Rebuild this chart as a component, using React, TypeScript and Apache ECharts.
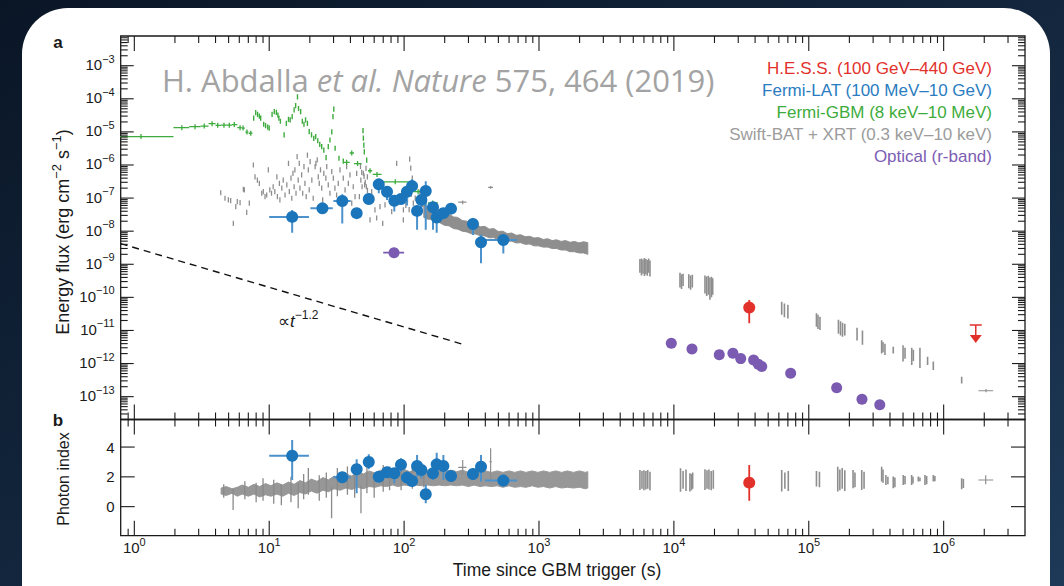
import React, { useEffect, useRef } from 'react';
import * as echarts from 'echarts';

// ---------------- axes ----------------
const X_MIN = 0.7925;
const X_MAX = 4.009e6;
const YA_MIN = 2.04e-14;
const YA_MAX = 7.9e-3;
const YB_MIN = -1.95;
const YB_MAX = 5.85;
const X_LABEL_EXPONENTS = [0, 1, 2, 3, 4, 5, 6];
const YA_LABEL_EXPONENTS = [-3, -4, -5, -6, -7, -8, -9, -10, -11, -12, -13];
const YB_TICKS = [0, 2, 4];

// ---------------- legend ----------------
const legendLabels = [
  'H.E.S.S. (100 GeV–440 GeV)',
  'Fermi-LAT (100 MeV–10 GeV)',
  'Fermi-GBM (8 keV–10 MeV)',
  'Swift-BAT + XRT (0.3 keV–10 keV)',
  'Optical (r-band)',
];
const C_HESS = '#e2312b';
const C_LAT = '#1b75bb';
const C_LAT_ERR = '#4b91cb';
const C_GBM = '#3dab3d';
const C_SWIFT = '#8e8e8e';
const C_SWIFT_B = '#979797';
const C_OPT = '#7b5bb1';
const legendColors = [C_HESS, '#2b7cbf', '#3eac3c', '#9c9c9c', '#7d5db3'];

// ---------------- H.E.S.S. ----------------
const hessT = [36200];
const hessF = [4.9e-11];
const hessFLo = [1.66e-11];
const hessFHi = [8.3e-11];
const hessIdx = [1.61];
const hessIdxLo = [0.4];
const hessIdxHi = [2.8];
const hessUpperLimit = [[1.73e6, 1.47e-11]];

// ---------------- Fermi-LAT ----------------
const latT = [14.8, 24.8, 34.8, 44.5, 54.7, 64.9, 74.7, 84.6, 94.8, 105, 114.6, 124.8, 134.3, 144.7, 163.8, 174.4, 195.5, 222.7, 324, 371.7, 544];
const latTLo = [10.0, 20.2, 29.9, 40.8, 51, 61, 71, 81, 91, 101, 111, 121, 131, 141, 156, 170, 185, 210, 300, 371.7, 398];
const latTHi = [19.7, 29.6, 40.2, 48.5, 58, 69, 78, 88, 99, 109, 119, 129, 138, 149, 171, 180, 205, 236, 348, 371.7, 687];
const latF = [2.7e-8, 4.9e-8, 8.2e-8, 3.5e-8, 9.4e-8, 2.6e-7, 1.56e-7, 8.3e-8, 9.4e-8, 1.56e-7, 2.3e-7, 4.1e-8, 8.8e-8, 1.64e-7, 5.3e-8, 2.6e-8, 3.5e-8, 4.8e-8, 1.65e-8, 4.6e-9, 5.4e-9];
const latFLo = [9e-9, 3.6e-8, 1.7e-8, 2.6e-8, 6.6e-8, 1.4e-7, 8.7e-8, 3.9e-8, 6.6e-8, 6e-8, 1.6e-7, 1.1e-8, 4.2e-8, 1.1e-8, 1.1e-8, 8.9e-9, 2.5e-8, 3.5e-8, 7.6e-9, 1.07e-9, 2.1e-9];
const latFHi = [4.4e-8, 6.6e-8, 1.3e-7, 4.6e-8, 1.4e-7, 3.5e-7, 2.1e-7, 1.24e-7, 1.15e-7, 2.3e-7, 3.7e-7, 6.2e-8, 1.2e-7, 3.2e-7, 7.5e-8, 3.5e-8, 4.5e-8, 6e-8, 2.5e-8, 8e-9, 7.6e-9];
const latIdx = [3.42, null, 1.97, 2.51, 3.0, 2.01, 2.31, 2.24, 2.82, 1.95, 1.72, 2.73, 2.46, 0.83, 2.24, 2.84, 2.73, 2.06, 2.19, 2.68, 1.75];
const latIdxLo = [1.79, null, 1.57, 0.9, 2.51, 1.68, 1.9, 1.57, 2.35, 1.57, 1.46, 2.01, 1.9, 0.23, 1.79, 2.01, 1.79, 1.79, 1.79, 1.68, 1.35];
const latIdxHi = [4.47, null, 2.28, 3.18, 3.52, 2.35, 2.68, 2.57, 3.25, 2.35, 2.01, 3.47, 2.91, 1.46, 2.68, 3.62, 3.47, 2.35, 2.57, 3.47, 1.9];

// ---------------- Fermi-GBM ----------------
// binned points [t, F, tLo, tHi]
const gbmBins = [
  [1.12, 7.2e-6, 0.5, 1.95], [2.25, 1.34e-5, 1.95, 2.55], [2.82, 1.44e-5, 2.55, 3.1], [3.3, 1.5e-5, 3.1, 3.55],
  [3.77, 1.77e-5, 3.55, 4.0], [4.15, 1.58e-5, 4.0, 4.4], [4.62, 1.6e-5, 4.4, 4.85], [5.06, 1.6e-5, 4.85, 5.3],
  [5.51, 1.66e-5, 5.3, 5.8], [6.08, 1.34e-5, 5.8, 6.25], [6.4, 1.3e-5, 6.25, 6.6], [6.84, 9.9e-6, 6.65, 7.0],
  [7.3, 9.1e-6, 7.05, 7.5], [37.5, 1.2e-6, 35.5, 39.5], [40.9, 2.3e-6, 39.5, 42.5], [45.2, 1.1e-6, 42.5, 48.5],
  [55.9, 6.7e-7, 54, 58], [63, 5.2e-7, 58.5, 68], [86, 3.1e-7, 68, 110], [127, 1.56e-7, 116, 138], [163, 7.1e-8, 150, 178],
];
// fine time-resolved points [t, F]
const gbmFine = [
  [7.67, 2.6e-5], [7.94, 3.8e-5], [8.2, 3.4e-5], [8.45, 3.0e-5], [8.65, 2.6e-5], [9.1, 1.7e-5], [9.4, 1.55e-5],
  [9.75, 1.4e-5], [10.0, 1.3e-5], [10.5, 3.4e-5], [10.9, 4.1e-5], [11.3, 3.9e-5], [11.6, 3.2e-5], [11.8, 2.6e-5],
  [12.1, 2.1e-5], [12.9, 8.1e-6], [13.4, 1.8e-5], [13.9, 2.4e-5], [14.3, 2.3e-5], [14.8, 2.9e-5], [15.3, 4.6e-5],
  [15.7, 6.2e-5], [16.2, 1.15e-4], [16.5, 5.1e-5], [17.1, 4.1e-5], [17.6, 2.1e-5], [18.1, 1.7e-5], [18.6, 2.3e-5],
  [19.2, 1.8e-5], [19.8, 1.02e-5], [20.6, 8.1e-6], [21.4, 6.4e-6], [22.1, 7.2e-6], [22.9, 5.4e-6], [23.7, 4.2e-6],
  [24.5, 3.6e-6], [25.4, 2.8e-6], [26.4, 1.66e-6], [27.4, 3.6e-6], [28.2, 5.7e-6], [29.1, 1.0e-5], [29.7, 2.9e-5],
  [30.1, 4.9e-5], [30.8, 3.2e-6], [32.9, 1.6e-6], [35.4, 1.3e-6], [49.6, 1.1e-5], [49.9, 6.5e-6], [50.3, 4e-6],
  [50.7, 2.5e-6], [52.8, 1.4e-6],
];

// ---------------- Swift-BAT + XRT ----------------
const swiftEarly = [
  [4.37, 1.45e-7], [4.70, 9.9e-8], [4.98, 8.8e-8], [5.18, 8.4e-8], [5.42, 1.73e-8], [5.65, 5.5e-8], [5.80, 7.8e-8],
  [6.08, 7.3e-8], [6.43, 1.85e-7], [6.54, 1.76e-7], [6.81, 3.7e-8], [7.12, 7.0e-8], [7.63, 1.0e-6], [7.85, 4.4e-7],
  [8.17, 3.5e-7], [8.45, 2.8e-7], [8.80, 1.4e-7], [9.04, 1.56e-7], [9.31, 1.1e-7], [9.58, 1.24e-7], [9.85, 7.1e-7],
  [10.1, 1.76e-7], [10.4, 1.4e-7], [10.7, 2.2e-7], [11.0, 1.56e-7], [11.4, 4.4e-7], [11.5, 1.1e-7], [11.9, 2.8e-7],
  [12.0, 8.8e-8], [12.4, 2.0e-7], [12.7, 3.5e-7], [13.1, 1.24e-7], [13.5, 2.5e-7], [13.9, 1.12e-6], [14.1, 1.56e-7],
  [14.5, 4.0e-7], [14.7, 9.9e-8], [15.0, 5.6e-7], [15.3, 2.2e-7], [15.5, 7.1e-7], [15.8, 1.4e-7], [16.1, 1.79e-6],
  [16.4, 3.5e-7], [16.7, 1.12e-6], [16.9, 2.0e-7], [17.4, 5.0e-7], [17.7, 1.4e-7], [18.1, 8.9e-7], [18.4, 2.8e-7],
  [18.8, 1.1e-7], [19.2, 2.0e-6], [19.5, 7.1e-7], [19.8, 1.76e-7], [20.1, 1.26e-6], [20.7, 3.5e-7], [21.2, 9.9e-8],
  [21.9, 8.9e-7], [22.2, 1.12e-6], [22.7, 1.42e-6], [23.1, 4.4e-7], [23.5, 2.8e-7], [24.0, 7.1e-7], [24.5, 2.0e-7],
  [24.9, 8.8e-8], [25.4, 5.6e-7], [26.3, 4.0e-7], [26.7, 8.9e-7], [27.4, 2.5e-7], [28.2, 1.4e-7], [29.1, 6.3e-7],
  [29.9, 4.0e-7], [30.7, 2.0e-7], [31.6, 1.24e-7], [32.5, 2.8e-7], [33.5, 7.1e-7], [34.4, 8.8e-8], [35.4, 4.0e-7],
  [36.5, 1.76e-7], [37.5, 8.9e-7], [38.6, 2.8e-7], [39.7, 5.0e-7], [40.9, 7.0e-8], [42.0, 2.2e-7], [43.3, 1.1e-7],
  [44.5, 5.6e-7], [45.8, 3.5e-8], [46.6, 1.1e-7], [47.5, 9e-7], [47.8, 3.5e-7], [48.5, 6e-7], [48.8, 2.2e-7],
  [49.9, 5.6e-7], [50.5, 4.5e-7], [51.0, 2.5e-7], [51.5, 3e-7], [52.2, 7.9e-7], [52.5, 2.2e-7], [53.4, 4.4e-7],
  [53.5, 1.7e-7], [55.9, 2.2e-8], [57.5, 1.56e-7], [59.1, 8.8e-8], [60.8, 4.4e-8], [62.6, 2.5e-8], [66.3, 5.5e-8],
  [69.4, 1.73e-8], [72.2, 6.2e-8], [76.2, 1.24e-7], [80.9, 3.9e-8], [88.1, 1.12e-6], [93.3, 9.9e-8], [98.8, 4.4e-8],
  [88.0, 8.8e-8], [98.7, 2.2e-8], [110, 1.5e-6], [112, 8e-7], [115, 4e-7], [118, 2.5e-7],
  [100, 1.1e-7], [103, 6e-8], [106, 9e-8], [109, 4.5e-8], [113, 1.3e-7], [117, 7e-8], [120, 3.5e-8], [121, 1.0e-7],
  [125, 5e-8], [129, 8.5e-8], [131, 1.5e-7], [133, 3.8e-8], [137, 6.5e-8], [141, 1.1e-7],
];
// dense XRT band (panel a): time, upper edge, lower edge
const bandAT = [140, 150, 160, 172, 184, 199, 215, 232, 250, 270, 292, 315, 340, 367, 396, 428, 462, 499, 539, 582, 628, 678, 732, 790, 853, 921, 994, 1073, 1159, 1251, 1350, 1458, 1574, 1700, 1835, 1981, 2139, 2300];
const bandAHi = [6.5e-8, 5.5e-8, 5.8e-8, 4.6e-8, 4.4e-8, 3.4e-8, 3.3e-8, 2.7e-8, 2.6e-8, 2.1e-8, 2.0e-8, 1.6e-8, 1.65e-8, 1.35e-8, 1.4e-8, 1.15e-8, 1.2e-8, 9.8e-9, 1.0e-8, 8.4e-9, 8.8e-9, 7.5e-9, 7.8e-9, 6.8e-9, 7.0e-9, 6.2e-9, 6.4e-9, 5.6e-9, 5.9e-9, 5.2e-9, 5.5e-9, 4.9e-9, 5.2e-9, 4.6e-9, 4.9e-9, 4.4e-9, 4.8e-9, 4.5e-9];
const bandALo = [2.6e-8, 2.3e-8, 2.3e-8, 1.9e-8, 1.8e-8, 1.5e-8, 1.45e-8, 1.2e-8, 1.15e-8, 1.0e-8, 9.5e-9, 8.4e-9, 8.2e-9, 7.3e-9, 7.2e-9, 6.3e-9, 6.4e-9, 5.5e-9, 5.5e-9, 5.0e-9, 5.0e-9, 4.4e-9, 4.5e-9, 4.0e-9, 4.1e-9, 3.6e-9, 3.6e-9, 3.3e-9, 3.3e-9, 3.0e-9, 3.0e-9, 2.7e-9, 2.7e-9, 2.4e-9, 2.4e-9, 2.2e-9, 2.2e-9, 2.0e-9];
// late XRT observations (panel a): [t, low, high]
const swiftLateA = [
  [5600, 5.5e-10, 1.45e-9], [5750, 4.6e-10, 1.5e-9], [5900, 5.2e-10, 1.4e-9], [6050, 4.4e-10, 1.55e-9], [6200, 5.0e-10, 1.45e-9], [6350, 4.5e-10, 1.35e-9], [6500, 5.5e-10, 1.5e-9], [6650, 4.3e-10, 1.3e-9],
  [11100, 2.0e-10, 5.5e-10], [11400, 1.8e-10, 5.0e-10], [11700, 2.2e-10, 5.2e-10],
  [12900, 1.9e-10, 5.0e-10], [13300, 1.7e-10, 4.6e-10], [13700, 2.0e-10, 4.8e-10],
  [17000, 1.3e-10, 4.6e-10], [17500, 1.1e-10, 4.3e-10], [18000, 1.2e-10, 4.5e-10], [18500, 8.5e-11, 4.0e-10], [19000, 1.0e-10, 4.2e-10], [19400, 1.2e-10, 3.8e-10],
  [63000, 3.0e-11, 7.4e-11], [66000, 2.5e-11, 6.5e-11], [70000, 2.3e-11, 6.0e-11],
  [114000, 1.3e-11, 3.3e-11], [117000, 1.1e-11, 3.0e-11], [121000, 1.03e-11, 2.6e-11],
  [166000, 8e-12, 2.1e-11], [172000, 7e-12, 1.9e-11], [178000, 6.5e-12, 1.7e-11], [185000, 7e-12, 1.6e-11],
  [228000, 5e-12, 1.2e-11], [250000, 3.7e-12, 1.0e-11],
  [347000, 2e-12, 5.1e-12], [355000, 2.2e-12, 4.5e-12], [367000, 1.8e-12, 4.0e-12],
  [423000, 2.0e-12, 3.2e-12],
  [500000, 1.15e-12, 3.6e-12], [517000, 1.4e-12, 3.0e-12],
  [580000, 9.1e-13, 3.0e-12], [596000, 1.2e-12, 2.6e-12],
  [667000, 7.4e-13, 3.0e-12],
  [760000, 9.1e-13, 1.6e-12],
  [838000, 6.4e-13, 1.15e-12],
  [1.36e6, 2.5e-13, 4.0e-13],
];
// BAT/XRT points with both error bars: [t, F, tLo, tHi, FLo, FHi]
const swiftCrossA = [
  [272, 7.5e-8, 252, 290, 6.5e-8, 8.5e-8],
  [438, 2.1e-7, 420, 456, 1.9e-7, 2.3e-7],
  [2.06e6, 1.51e-13, 1.81e6, 2.33e6, 1.35e-13, 1.7e-13],
];

// Swift photon index (panel b)
const bandBT = [4.4, 4.8, 5.3, 5.8, 6.3, 7.0, 7.7, 8.5, 9.4, 10.3, 11.4, 12.6, 13.9, 15.3, 16.9, 18.6, 20.5, 22.6, 25, 27.5, 30.3, 33.5, 37, 41, 45, 50, 55, 61, 67, 74, 82, 90, 100, 110, 122, 135, 150, 165, 182, 200, 222, 245, 270, 300, 330, 365, 400, 445, 490, 540, 600, 660, 730, 800, 890, 980, 1080, 1200, 1330, 1470, 1620, 1800, 2000, 2200, 2300];
const bandBHi = [1.25, 1.35, 1.2, 1.3, 1.45, 1.3, 1.5, 1.35, 1.55, 1.4, 1.6, 1.45, 1.65, 1.5, 1.75, 1.6, 1.85, 1.7, 1.95, 1.8, 2.05, 1.95, 2.2, 2.05, 2.35, 2.2, 2.4, 2.25, 2.45, 2.3, 2.45, 2.35, 2.5, 2.35, 2.45, 2.35, 2.45, 2.35, 2.45, 2.35, 2.45, 2.35, 2.45, 2.3, 2.4, 2.3, 2.4, 2.3, 2.4, 2.3, 2.4, 2.3, 2.4, 2.3, 2.4, 2.3, 2.4, 2.3, 2.4, 2.3, 2.4, 2.3, 2.4, 2.3, 2.35];
const bandBLo = [0.85, 0.75, 0.9, 0.7, 0.85, 0.7, 0.85, 0.65, 0.8, 0.7, 0.85, 0.7, 0.9, 0.75, 0.95, 0.85, 1.05, 0.9, 1.1, 1.0, 1.2, 1.1, 1.25, 1.15, 1.3, 1.2, 1.35, 1.3, 1.4, 1.35, 1.45, 1.35, 1.45, 1.4, 1.45, 1.4, 1.45, 1.4, 1.45, 1.4, 1.45, 1.4, 1.45, 1.35, 1.45, 1.35, 1.4, 1.35, 1.4, 1.3, 1.4, 1.3, 1.35, 1.3, 1.4, 1.3, 1.35, 1.25, 1.35, 1.25, 1.3, 1.25, 1.3, 1.2, 1.25];
const swiftSpikesB = [
  [4.6, 0.6, 1.5], [5.4, -0.22, 1.2], [6.6, 0.5, 1.7], [8.0, 0.3, 1.6], [9.0, 0.4, 1.9], [10.8, 0.2, 1.8],
  [12.3, 0.1, 1.5], [14.5, 0.3, 2.0], [16.4, -0.1, 1.6], [18, 0.5, 2.2], [19.5, 0.8, 2.6], [23.5, 0.4, 2.1],
  [26.5, 0.6, 2.3], [29, -0.78, 1.3], [32, 0.7, 2.6], [38, 0.8, 2.7], [43, 0.6, 2.8], [47.9, -0.44, 1.4],
  [53, 0.9, 2.9], [60, 0.6, 1.8], [70, 1.0, 2.8], [78, 1.1, 2.7], [95, 1.1, 2.8], [115, 1.2, 2.75], [140, 1.3, 2.7],
];
const swiftLateB = [
  [5600, 1.12, 2.46], [5800, 1.2, 2.4], [6000, 1.1, 2.45], [6200, 1.15, 2.4], [6400, 1.2, 2.46], [6650, 1.1, 2.35],
  [11200, 1.0, 2.57], [11700, 1.2, 2.4], [12300, 1.05, 2.5], [13150, 1.01, 2.24], [13500, 1.1, 2.2], [13780, 1.2, 2.3],
  [17000, 1.12, 2.51], [17600, 1.2, 2.45], [18200, 1.15, 2.5], [18900, 1.1, 2.4], [19600, 1.2, 2.45],
  [63000, 1.01, 2.46], [66500, 1.2, 2.3], [70500, 1.05, 2.4],
  [114000, 1.35, 2.40], [120000, 1.3, 2.35],
  [164000, 1.01, 2.68], [170000, 1.1, 2.5], [177000, 1.2, 2.6], [185000, 1.05, 2.45],
  [213000, 1.23, 2.46], [220000, 1.3, 2.3], [247000, 1.12, 2.46], [257000, 1.2, 2.35],
  [347000, 1.68, 2.68], [355000, 1.6, 2.5], [373000, 1.46, 2.13], [386000, 1.5, 2.0],
  [423000, 1.23, 2.02], [435000, 1.3, 1.95], [502000, 1.46, 2.13], [517000, 1.5, 2.05],
  [579000, 1.46, 2.13], [592000, 1.55, 2.0], [649000, 1.68, 2.02], [667000, 1.7, 1.95],
  [727000, 1.46, 2.13], [748000, 1.5, 2.05], [838000, 1.68, 2.13], [861000, 1.7, 2.05],
  [1.36e6, 1.17, 1.91], [1.40e6, 1.25, 1.85],
];
const swiftCrossB = [
  [272, 2.64, 252, 290, 2.13, 3.13],
  [438, 3.02, 430, 446, 1.79, 3.92],
  [2.05e6, 1.79, 1.81e6, 2.33e6, 1.5, 2.1],
];

// ---------------- Optical ----------------
const optT = [84.2, 9570, 13620, 21700, 27400, 31300, 39000, 42300, 44800, 73400, 161000, 248000, 336000];
const optF = [2.24e-9, 4.1e-12, 2.76e-12, 1.86e-12, 2.05e-12, 1.41e-12, 1.28e-12, 9.5e-13, 8.1e-13, 5.1e-13, 1.87e-13, 8.3e-14, 5.7e-14];
const optTLo = [70, 9570, 13620, 21700, 27400, 31300, 39000, 42300, 44800, 73400, 161000, 248000, 336000];
const optTHi = [100, 9570, 13620, 21700, 27400, 31300, 39000, 42300, 44800, 73400, 161000, 248000, 336000];

// ---------------- power law guide ∝ t^-1.2 ----------------
const powerLaw = [[0.7925, 4.2e-9], [283, 3.66e-12]];

// ---------------- styling ----------------
const FONT = '"Liberation Sans", Arial, Helvetica, sans-serif';
const INK = '#1a1a1a';

function supRich(size: number, sup: number, color = INK, family = FONT) {
  return {
    b: { fontSize: size, lineHeight: size + 8, fontFamily: family, fill: color, color },
    s: { fontSize: sup, lineHeight: sup, verticalAlign: 'top', fontFamily: family, fill: color, color },
  };
}

function logTicks(minV: number, maxV: number, k0: number, k1: number) {
  const out: any[] = [];
  for (let k = k0; k <= k1; k++) {
    for (let m = 1; m <= 9; m++) {
      const v = m * Math.pow(10, k);
      if (v > minV * 1.002 && v < maxV / 1.002) out.push([v, m === 1]);
    }
  }
  return out;
}
const X_TICKS = logTicks(X_MIN, X_MAX, -1, 6);
const YA_TICKS = logTicks(YA_MIN, YA_MAX, -14, -3);

function ln(x1: number, y1: number, x2: number, y2: number, stroke: string, lineWidth: number) {
  return { type: 'line', shape: { x1, y1, x2, y2 }, style: { stroke, lineWidth } };
}

function txt(x: number, y: number, text: string, o: any = {}) {
  const align = o.align || 'left';
  return {
    type: 'text', x, y, rotation: o.rotation || 0, silent: true, z: 60,
    style: {
      text, fill: o.color || INK, font: o.font || `15px ${FONT}`,
      align, textAlign: align, verticalAlign: 'middle', textVerticalAlign: 'middle',
      rich: o.rich,
    },
  };
}

function axesRender(panel: 'a' | 'b') {
  return (params: any, api: any) => {
    const cs = params.coordSys;
    const x0 = cs.x, y0 = cs.y, w = cs.width, h = cs.height;
    const refY = panel === 'a' ? 1e-8 : 0;
    const ch: any[] = [];
    const c = '#1a1a1a';
    X_TICKS.forEach(([v, major]: any) => {
      const px = api.coord([v, refY])[0];
      if (px < x0 + 1 || px > x0 + w - 1) return;
      const L = major ? 15 : 7;
      ch.push(ln(px, y0, px, y0 + L, c, 1.1));
      ch.push(ln(px, y0 + h, px, y0 + h - L, c, 1.1));
    });
    if (panel === 'a') {
      YA_TICKS.forEach(([v, major]: any) => {
        const py = api.coord([1, v])[1];
        if (py < y0 + 1 || py > y0 + h - 1) return;
        const L = major ? 13 : 7;
        ch.push(ln(x0, py, x0 + L, py, c, 1.1));
        ch.push(ln(x0 + w, py, x0 + w - L, py, c, 1.1));
      });
      YA_LABEL_EXPONENTS.forEach((k) => {
        const py = api.coord([1, Math.pow(10, k)])[1];
        ch.push({
          type: 'text', x: x0 - 6, y: py - 1,
          style: { text: `{b|10}{s|−${-k}}`, rich: supRich(15, 11), align: 'right', verticalAlign: 'middle', fill: INK },
        });
      });
    } else {
      YB_TICKS.forEach((v) => {
        const py = api.coord([1, v])[1];
        ch.push(ln(x0, py, x0 + 14, py, c, 1.1));
        ch.push(ln(x0 + w, py, x0 + w - 14, py, c, 1.1));
        ch.push({
          type: 'text', x: x0 - 6, y: py,
          style: { text: String(v), font: `15px ${FONT}`, align: 'right', verticalAlign: 'middle', fill: INK },
        });
      });
      X_LABEL_EXPONENTS.forEach((k) => {
        const px = api.coord([Math.pow(10, k), 0])[0];
        ch.push({
          type: 'text', x: px, y: y0 + h + 12,
          style: { text: `{b|10}{s|${k}}`, rich: supRich(15, 11), align: 'center', verticalAlign: 'middle', fill: INK },
        });
      });
    }
    return { type: 'group', children: ch };
  };
}

function errRender(color: string, width: number) {
  return (params: any, api: any) => {
    const t = api.value(0), y = api.value(1);
    const tlo = api.value(2), thi = api.value(3), ylo = api.value(4), yhi = api.value(5);
    const ch: any[] = [];
    if (tlo !== thi) {
      const a = api.coord([tlo, y]), b = api.coord([thi, y]);
      ch.push(ln(a[0], a[1], b[0], b[1], color, width));
    }
    if (ylo !== yhi) {
      const a = api.coord([t, ylo]), b = api.coord([t, yhi]);
      ch.push(ln(a[0], a[1], b[0], b[1], color, width));
    }
    return { type: 'group', children: ch };
  };
}

function vbarRender(color: string, width: number) {
  return (params: any, api: any) => {
    const a = api.coord([api.value(0), api.value(1)]);
    const b = api.coord([api.value(0), api.value(2)]);
    return ln(a[0], a[1], b[0], b[1], color, width);
  };
}

function dashRender(color: string, width: number, half: number) {
  return (params: any, api: any) => {
    const p = api.coord([api.value(0), api.value(1)]);
    return ln(p[0], p[1] - half, p[0], p[1] + half, color, width);
  };
}

function binRender(color: string, width: number, half: number) {
  return (params: any, api: any) => {
    const y = api.value(1);
    const p = api.coord([api.value(0), y]);
    const a = api.coord([api.value(2), y]);
    const b = api.coord([api.value(3), y]);
    return {
      type: 'group',
      children: [ln(a[0], a[1], b[0], b[1], color, width), ln(p[0], p[1] - half, p[0], p[1] + half, color, width)],
    };
  };
}

function bandRender(ts: number[], hi: number[], lo: number[], color: string) {
  return (params: any, api: any) => {
    const n = Math.min(ts.length, hi.length, lo.length);
    const pts: number[][] = [];
    for (let i = 0; i < n; i++) pts.push(api.coord([ts[i], hi[i]]));
    for (let i = n - 1; i >= 0; i--) pts.push(api.coord([ts[i], lo[i]]));
    return { type: 'polygon', shape: { points: pts }, style: { fill: color, stroke: color, lineWidth: 1 } };
  };
}

function upperLimitRender(color: string) {
  return (params: any, api: any) => {
    const p = api.coord([api.value(0), api.value(1)]);
    return {
      type: 'group',
      children: [
        ln(p[0] - 6, p[1], p[0] + 6, p[1], color, 1.5),
        ln(p[0], p[1], p[0], p[1] + 11, color, 1.5),
        { type: 'polygon', shape: { points: [[p[0] - 6, p[1] + 10], [p[0] + 6, p[1] + 10], [p[0], p[1] + 18]] }, style: { fill: color } },
      ],
    };
  };
}

function custom(grid: number, data: any[], renderItem: any, z: number, clip = true) {
  return { type: 'custom', xAxisIndex: grid, yAxisIndex: grid, data, renderItem, z, clip, silent: true, animation: false };
}

function buildOption() {
  const latErrA = latT.map((t, i) => [t, latF[i], latTLo[i], latTHi[i], latFLo[i], latFHi[i]]);
  const latPtsA = latT.map((t, i) => [t, latF[i]]);
  const latErrB: any[] = [];
  const latPtsB: any[] = [];
  latT.forEach((t, i) => {
    if (latIdx[i] == null) return;
    latErrB.push([t, latIdx[i], latTLo[i], latTHi[i], latIdxLo[i], latIdxHi[i]]);
    latPtsB.push([t, latIdx[i]]);
  });
  const hessErrA = hessT.map((t, i) => [t, hessF[i], t, t, hessFLo[i], hessFHi[i]]);
  const hessPtsA = hessT.map((t, i) => [t, hessF[i]]);
  const hessErrB = hessT.map((t, i) => [t, hessIdx[i], t, t, hessIdxLo[i], hessIdxHi[i]]);
  const hessPtsB = hessT.map((t, i) => [t, hessIdx[i]]);
  const optErr = optT.map((t, i) => [t, optF[i], optTLo[i], optTHi[i], optF[i], optF[i]]);
  const optPts = optT.map((t, i) => [t, optF[i]]);

  const gridCommon = { left: 120.7, width: 904.3, show: true, borderColor: '#1a1a1a', borderWidth: 1.3, backgroundColor: 'transparent', containLabel: false };
  const hidden = { axisLabel: { show: false }, axisTick: { show: false }, axisLine: { show: false }, splitLine: { show: false }, minorTick: { show: false } };

  const legend = legendLabels.map((s, i) => txt(992, 68 + i * 22, s, { align: 'right', color: legendColors[i], font: `17px ${FONT}` }));
  const wmFont = '"Open Sans", "Noto Sans", sans-serif';

  return {
    animation: false,
    backgroundColor: {
      type: 'linear', x: 0, y: 0, x2: 1, y2: 1,
      colorStops: [{ offset: 0, color: '#0a1626' }, { offset: 0.5, color: '#13263d' }, { offset: 1, color: '#1d3957' }],
    },
    grid: [
      { ...gridCommon, top: 36, height: 383.5 },
      { ...gridCommon, top: 419.5, height: 116.2 },
    ],
    xAxis: [
      { type: 'log', logBase: 10, gridIndex: 0, min: X_MIN, max: X_MAX, ...hidden },
      { type: 'log', logBase: 10, gridIndex: 1, min: X_MIN, max: X_MAX, ...hidden },
    ],
    yAxis: [
      { type: 'log', logBase: 10, gridIndex: 0, min: YA_MIN, max: YA_MAX, ...hidden },
      { type: 'value', gridIndex: 1, min: YB_MIN, max: YB_MAX, ...hidden },
    ],
    graphic: [
      { type: 'rect', z: -50, silent: true, shape: { x: 22, y: 8, width: 1028, height: 640, r: 46 }, style: { fill: '#ffffff' } },
      txt(58, 42, 'a', { align: 'center', font: `bold 17px ${FONT}` }),
      txt(58, 420, 'b', { align: 'center', font: `bold 17px ${FONT}` }),
      txt(63, 232, '{b|Energy flux (erg cm}{s|−2}{b| s}{s|−1}{b|)}', { align: 'center', rotation: Math.PI / 2, rich: supRich(18, 13) }),
      txt(63, 479, 'Photon index', { align: 'center', rotation: Math.PI / 2, font: `16px ${FONT}` }),
      txt(557, 570, 'Time since GBM trigger (s)', { align: 'center', font: `17.5px ${FONT}` }),
      txt(162, 80, '{n|H. Abdalla }{i|et al. Nature}{n| 575, 464 (2019)}', {
        color: '#a3a3a3',
        rich: {
          n: { fontSize: 31, fontFamily: wmFont, fill: '#a3a3a3', color: '#a3a3a3' },
          i: { fontSize: 31, fontStyle: 'italic', fontFamily: wmFont, fill: '#a3a3a3', color: '#a3a3a3' },
        },
      }),
      txt(278, 321, '{b|∝}{i|t}{s|−1.2}', {
        rich: {
          b: { fontSize: 17, lineHeight: 24, fontFamily: FONT, fill: INK },
          i: { fontSize: 17, lineHeight: 24, fontStyle: 'italic', fontFamily: FONT, fill: INK },
          s: { fontSize: 12, lineHeight: 12, verticalAlign: 'top', fontFamily: FONT, fill: INK },
        },
      }),
      ...legend,
    ],
    series: [
      // panel a
      custom(0, [[bandAT[0], bandAHi[0]]], bandRender(bandAT, bandAHi, bandALo, C_SWIFT), 2),
      custom(0, swiftEarly, dashRender(C_SWIFT, 1.3, 2.6), 2),
      custom(0, swiftLateA, vbarRender(C_SWIFT, 1.6), 2),
      custom(0, swiftCrossA, errRender(C_SWIFT, 1.2), 2),
      custom(0, gbmBins, binRender(C_GBM, 1.3, 2.5), 3),
      custom(0, gbmFine, dashRender(C_GBM, 1.4, 2.6), 3),
      {
        type: 'line', xAxisIndex: 0, yAxisIndex: 0, data: powerLaw, symbol: 'none', silent: true, z: 3,
        lineStyle: { color: '#111111', width: 1.4, type: [7, 5] },
      },
      custom(0, optErr, errRender(C_OPT, 1.8), 4),
      { type: 'scatter', xAxisIndex: 0, yAxisIndex: 0, data: optPts, symbol: 'circle', symbolSize: 11, itemStyle: { color: C_OPT, opacity: 1 }, z: 5, silent: true },
      custom(0, latErrA, errRender(C_LAT_ERR, 2), 4),
      { type: 'scatter', xAxisIndex: 0, yAxisIndex: 0, data: latPtsA, symbol: 'circle', symbolSize: 12, itemStyle: { color: C_LAT, opacity: 1 }, z: 5, silent: true },
      custom(0, hessErrA, errRender(C_HESS, 1.8), 6),
      { type: 'scatter', xAxisIndex: 0, yAxisIndex: 0, data: hessPtsA, symbol: 'circle', symbolSize: 12, itemStyle: { color: C_HESS, opacity: 1 }, z: 7, silent: true },
      custom(0, hessUpperLimit, upperLimitRender(C_HESS), 7),
      custom(0, [[1, 1e-8]], axesRender('a'), 20, false),
      // panel b
      custom(1, [[bandBT[0], bandBHi[0]]], bandRender(bandBT, bandBHi, bandBLo, C_SWIFT_B), 2),
      custom(1, swiftSpikesB, vbarRender('#8a8a8a', 1.3), 2),
      custom(1, swiftLateB, vbarRender(C_SWIFT, 1.6), 2),
      custom(1, swiftCrossB, errRender(C_SWIFT, 1.2), 2),
      custom(1, latErrB, errRender(C_LAT_ERR, 2), 4),
      { type: 'scatter', xAxisIndex: 1, yAxisIndex: 1, data: latPtsB, symbol: 'circle', symbolSize: 12, itemStyle: { color: C_LAT, opacity: 1 }, z: 5, silent: true },
      custom(1, hessErrB, errRender(C_HESS, 1.8), 6),
      { type: 'scatter', xAxisIndex: 1, yAxisIndex: 1, data: hessPtsB, symbol: 'circle', symbolSize: 12, itemStyle: { color: C_HESS, opacity: 1 }, z: 7, silent: true },
      custom(1, [[1, 0]], axesRender('b'), 20, false),
    ],
  };
}

export default function App() {
  const ref = useRef<HTMLDivElement>(null);
  useEffect(() => {
    if (!ref.current) return;
    const chart = echarts.init(ref.current, null, { renderer: 'svg' });
    chart.setOption(buildOption() as any);
    return () => chart.dispose();
  }, []);
  return <div ref={ref} style={{ position: 'fixed', left: 0, top: 0, width: 1064, height: 586 }} />;
}
